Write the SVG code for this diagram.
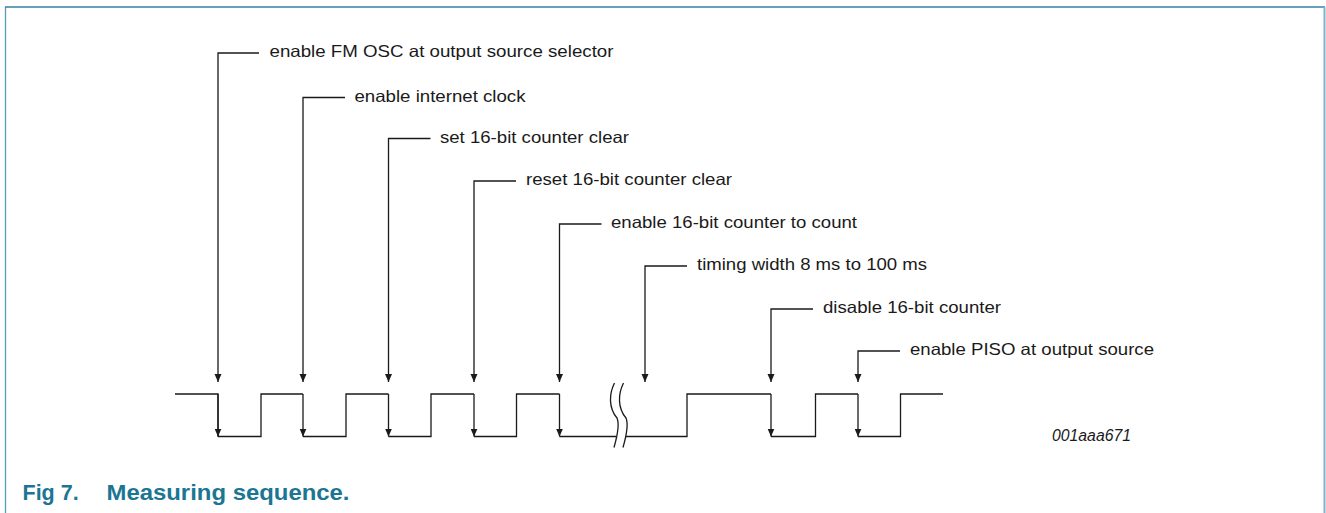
<svg xmlns="http://www.w3.org/2000/svg" width="1326" height="513" viewBox="0 0 1326 513">
<style>
.lbl{font-family:"Liberation Sans",Arial,sans-serif;font-size:16.5px;fill:#1a1a1a}
.ln{fill:none;stroke:#1a1a1a;stroke-width:1.3}
.cap{font-family:"Liberation Sans",Arial,sans-serif;font-size:21.5px;font-weight:bold;fill:#1b7593}
</style>
<defs>
<marker id="ah" markerUnits="userSpaceOnUse" markerWidth="8" markerHeight="8" refX="8" refY="3.5" orient="auto">
<path d="M0,0 L8,3.5 L0,7 z" fill="#1a1a1a"/>
</marker>
</defs>
<rect width="1326" height="513" fill="#fff"/>
<g id="frame">
<line x1="5.5" y1="7" x2="5.5" y2="513" stroke="#5b9cb6" stroke-width="1.3"/>
<line x1="5" y1="7" x2="1325" y2="7" stroke="#3582a0" stroke-width="1.6"/>
<line x1="1324.5" y1="7" x2="1324.5" y2="513" stroke="#7fb5c9" stroke-width="2"/>
</g>
<g id="waveform" class="ln">
<path d="M175,394 H218 V436.5"/>
<path d="M218,436.5 H261 V394 H303"/>
<path d="M303,436.5 H346 V394 H388.5"/>
<path d="M388.5,436.5 H431 V394 H474"/>
<path d="M474,436.5 H516.5 V394 H559.5"/>
<path d="M559.5,436.5 H616"/>
<path d="M626,436.5 H687 V394 H771"/>
<path d="M771,436.5 H815.5 V394 H858"/>
<path d="M858,436.5 H900.5 V394 H943"/>
<g marker-end="url(#ah)">
<path d="M218,394 V436.5"/>
<path d="M303,394 V436.5"/>
<path d="M388.5,394 V436.5"/>
<path d="M474,394 V436.5"/>
<path d="M559.5,394 V436.5"/>
<path d="M771,394 V436.5"/>
<path d="M858,394 V436.5"/>
</g>
</g>
<g id="break" class="ln" stroke-width="1.1">
<path d="M614.5,383 C609,394 608.5,408 617,418 C620,425 617,437 614,447.5"/>
<path d="M623.5,383 C618,394 617.5,408 626,418 C629,425 626,437 623,447.5"/>
</g>
<g id="connectors" class="ln" marker-end="url(#ah)">
<path d="M259,53 H218 V382"/>
<path d="M345,97.5 H303 V382"/>
<path d="M430.5,138.5 H388.5 V382"/>
<path d="M516,181 H474 V382"/>
<path d="M601.5,224 H559.5 V382"/>
<path d="M687,266 H645 V382"/>
<path d="M813,309 H771 V382"/>
<path d="M900,351 H858 V382"/>
</g>
<g id="n1"><text class="lbl" x="269.5" y="57" textLength="344" lengthAdjust="spacingAndGlyphs">enable FM OSC at output source selector</text></g>
<g id="n2"><text class="lbl" x="354.5" y="101.5" textLength="171" lengthAdjust="spacingAndGlyphs">enable internet clock</text></g>
<g id="n3"><text class="lbl" x="440" y="142.5" textLength="189" lengthAdjust="spacingAndGlyphs">set 16-bit counter clear</text></g>
<g id="n4"><text class="lbl" x="526" y="185" textLength="206" lengthAdjust="spacingAndGlyphs">reset 16-bit counter clear</text></g>
<g id="n5"><text class="lbl" x="611" y="228" textLength="246" lengthAdjust="spacingAndGlyphs">enable 16-bit counter to count</text></g>
<g id="n6"><text class="lbl" x="697" y="270" textLength="230" lengthAdjust="spacingAndGlyphs">timing width 8 ms to 100 ms</text></g>
<g id="n7"><text class="lbl" x="823" y="313" textLength="178" lengthAdjust="spacingAndGlyphs">disable 16-bit counter</text></g>
<g id="n8"><text class="lbl" x="910" y="355" textLength="244" lengthAdjust="spacingAndGlyphs">enable PISO at output source</text></g>
<g id="code"><text x="1052" y="441" font-family="Liberation Sans, Arial, sans-serif" font-size="16" font-style="italic" fill="#1a1a1a" textLength="79" lengthAdjust="spacingAndGlyphs">001aaa671</text></g>
<g id="caption">
<text class="cap" x="22.5" y="499.5">Fig 7.</text>
<text class="cap" x="106.5" y="499.5" textLength="243" lengthAdjust="spacingAndGlyphs">Measuring sequence.</text>
</g>
</svg>
